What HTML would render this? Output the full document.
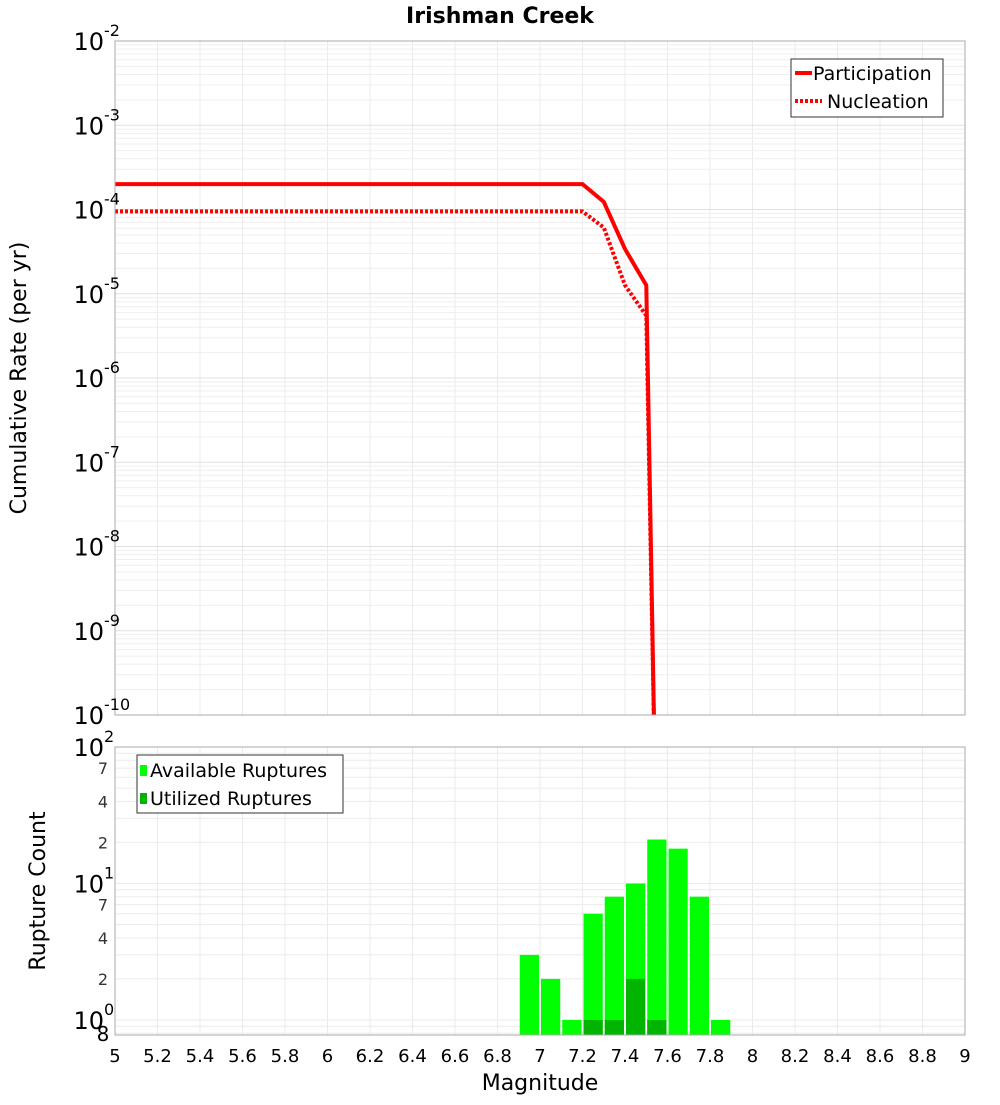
<!DOCTYPE html>
<html><head><meta charset="utf-8"><style>
body{margin:0;background:#fff;}
svg{font-family:"DejaVu Sans","Liberation Sans",sans-serif;}
</style></head><body>
<svg id="c" width="1000" height="1100" xmlns="http://www.w3.org/2000/svg">
<text x="500" y="23" text-anchor="middle" font-size="22" font-weight="bold">Irishman Creek</text>
<g id="top"></g>
<g id="bot"></g>
<text transform="translate(26,378) rotate(-90)" text-anchor="middle" font-size="22">Cumulative Rate (per yr)</text>
<text transform="translate(45,891) rotate(-90)" text-anchor="middle" font-size="22">Rupture Count</text>
<text x="540" y="1090" text-anchor="middle" font-size="22">Magnitude</text>
</svg>
<script>
const partMags=[5,7.2,7.3,7.4,7.5,7.55];
const partVals=[2e-4,2e-4,1.23e-4,3.4e-5,1.26e-5,1e-12];
const nuclMags=[5,7.2,7.3,7.4,7.5,7.55];
const nuclVals=[9.5e-5,9.5e-5,6.1e-5,1.26e-5,5.5e-6,1e-12];
const binCenters=[6.95,7.05,7.15,7.25,7.35,7.45,7.55,7.65,7.75,7.85];
const availCounts=[3,2,1,6,8,10,21,18,8,1];
const usedCounts=[0,0,0,1,1,2,1,0,0,0];
const xTicks=[5,5.2,5.4,5.6,5.8,6,6.2,6.4,6.6,6.8,7,7.2,7.4,7.6,7.8,8,8.2,8.4,8.6,8.8,9];
const topExps=[-10,-9,-8,-7,-6,-5,-4,-3,-2];

const NS="http://www.w3.org/2000/svg";
const X0=115,X1=965;
const T0=41,T1=715,B0=747,B1=1035;
const x=m=>X0+(m-5)/4*(X1-X0);
const yT=v=>T0+(-2-Math.log10(v))/8*(T1-T0);
const yB=v=>1020-Math.log10(v)*136.5;
function mk(p,tag,a){const e=document.createElementNS(NS,tag);for(const k in a)e.setAttribute(k,a[k]);p.appendChild(e);return e;}
const gTop=document.getElementById('top'),gBot=document.getElementById('bot');

for(const [g,y0,y1] of [[gTop,T0,T1],[gBot,B0,B1]]){
  mk(g,'rect',{x:X0,y:y0,width:X1-X0,height:y1-y0,fill:'#fff'});
  for(const t of xTicks){const l=mk(g,'line',{x1:x(t),x2:x(t),y1:y0,y2:y1,stroke:'#ebebeb'});}
}
for(let e=-10;e<-2;e++)for(let k=1;k<10;k++){const yy=yT(k*Math.pow(10,e));const l=mk(gTop,'line',{x1:X0,x2:X1,y1:yy,y2:yy,stroke:k==1?'#e0e0e0':'#efefef'});}
for(let e=-1;e<2;e++)for(let k=1;k<10;k++){const yy=yB(k*Math.pow(10,e));if(yy<B0||yy>B1)continue;const l=mk(gBot,'line',{x1:X0,x2:X1,y1:yy,y2:yy,stroke:'#ebebeb'});}

const defs=mk(document.getElementById('c'),'defs',{});
const cl=mk(defs,'clipPath',{id:'clipT'});mk(cl,'rect',{x:X0,y:T0,width:X1-X0,height:T1-T0});
function line(ms,vs,dash,name){
  let d='';ms.forEach((m,i)=>{d+=(i?'L':'M')+x(m).toFixed(1)+','+yT(vs[i]).toFixed(1);});
  const cp=mk(gTop,'path',{d,fill:'none',stroke:'#f00','stroke-width':4,'stroke-dasharray':dash,'clip-path':'url(#clipT)'});
  
  
}
line(nuclMags,nuclVals,'3,2','nucleation-line');
line(partMags,partVals,'none','participation-line');

const bw=(x(5.1)-x(5))-2;
binCenters.forEach((c,i)=>{
  const v=availCounts[i];if(v>0){const yy=yB(v);const r=mk(gBot,'rect',{x:x(c-0.05)+1,y:yy,width:bw,height:B1-yy,fill:'#00ff00'});}
  const u=usedCounts[i];if(u>0){const yy=yB(u);const r=mk(gBot,'rect',{x:x(c-0.05)+1,y:yy,width:bw,height:B1-yy,fill:'#00b400'});}
});

mk(gTop,'rect',{x:X0,y:T0,width:X1-X0,height:T1-T0,fill:'none',stroke:'#aaa'});
mk(gBot,'rect',{x:X0,y:B0,width:X1-X0,height:B1-B0,fill:'none',stroke:'#aaa'});

topExps.forEach(e=>{const yy=yT(Math.pow(10,e));const t=mk(gTop,'text',{x:104,y:yy+9,'text-anchor':'end','font-size':24});t.textContent='10';const s=mk(gTop,'text',{x:104,y:yy-5,'font-size':16});s.textContent=e;});
[[100,'10','2'],[10,'10','1'],[1,'10','0']].forEach(([v,b,e])=>{const yy=yB(v);const t=mk(gBot,'text',{x:104,y:yy+9,'text-anchor':'end','font-size':24});t.textContent=b;const s=mk(gBot,'text',{x:104,y:yy-5,'font-size':16});s.textContent=e;});
[[70,'7'],[40,'4'],[20,'2'],[7,'7'],[4,'4'],[2,'2']].forEach(([v,l])=>{const t=mk(gBot,'text',{x:108,y:yB(v)+6,'text-anchor':'end','font-size':16,fill:'#333'});t.textContent=l;});
{const t=mk(gBot,'text',{x:103,y:1041,'text-anchor':'middle','font-size':20});t.textContent='8';}
xTicks.forEach(m=>{const t=mk(gBot,'text',{x:x(m),y:1062,'text-anchor':'middle','font-size':18});t.textContent=String(m);});

const lg=mk(gTop,'g',{});


mk(lg,'rect',{x:791,y:59,width:152,height:58,fill:'#fff',stroke:'#333'});
mk(lg,'line',{x1:795,x2:812,y1:73,y2:73,stroke:'#f00','stroke-width':4});
mk(lg,'line',{x1:795,x2:822,y1:101,y2:101,stroke:'#f00','stroke-width':4,'stroke-dasharray':'3,2'});
let t=mk(lg,'text',{x:813,y:80,'font-size':19});t.textContent='Participation';
t=mk(lg,'text',{x:827,y:108,'font-size':19});t.textContent='Nucleation';
const lb=mk(gBot,'g',{});


mk(lb,'rect',{x:137,y:755,width:206,height:58,fill:'#fff',stroke:'#333'});
mk(lb,'rect',{x:140,y:765,width:7,height:11,fill:'#00ff00'});
mk(lb,'rect',{x:140,y:793,width:7,height:11,fill:'#00b400'});
t=mk(lb,'text',{x:150,y:777,'font-size':19});t.textContent='Available Ruptures';
t=mk(lb,'text',{x:150,y:805,'font-size':19});t.textContent='Utilized Ruptures';
</script>
</body></html>
